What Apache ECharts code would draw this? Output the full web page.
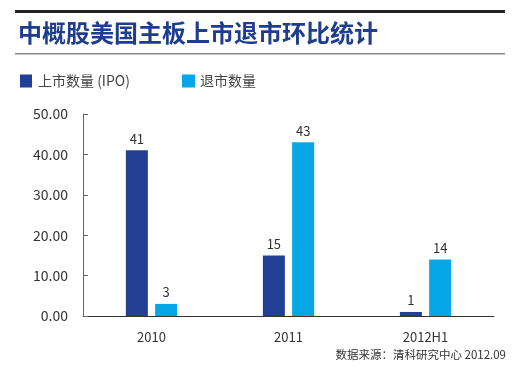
<!DOCTYPE html>
<html><head><meta charset="utf-8">
<script src="https://cdn.jsdelivr.net/npm/echarts@6/dist/echarts.min.js"></script>
<style>html,body{margin:0;padding:0;background:#fff}#c{width:524px;height:382px}</style>
</head><body><div id="c"></div>
<script>
const categories = ['2010', '2011', '2012H1'];
const ipoValues = [41, 15, 1];
const delistValues = [3, 43, 14];
const seriesNames = ['上市数量 (IPO)', '退市数量'];
const titleText = '中概股美国主板上市退市环比统计';
const sourceText = '数据来源：清科研究中心 2012.09';

const FONT = '"Noto Sans CJK SC", "Noto Sans", sans-serif';
const chart = echarts.init(document.getElementById('c'), null, {renderer: 'canvas'});
chart.setOption({
  backgroundColor: '#fff',
  animation: false,
  title: {
    text: titleText, left: 13, top: 16,
    textStyle: {fontFamily: FONT, fontSize: 24, fontWeight: 'bold', color: '#1f3d8e'}
  },
  legend: [
    {data: [seriesNames[0]], left: 15, top: 69, itemWidth: 12, itemHeight: 13, icon: 'rect', itemGap: 6,
     textStyle: {fontFamily: FONT, fontSize: 14, color: '#444', padding: [0,0,0,1]}},
    {data: [seriesNames[1]], left: 177, top: 69, itemWidth: 13, itemHeight: 13, icon: 'rect',
     textStyle: {fontFamily: FONT, fontSize: 14, color: '#444'}}
  ],
  graphic: [
    {type: 'rect', shape: {x: 15, y: 10, width: 490, height: 3}, style: {fill: '#222'}},
    {type: 'rect', shape: {x: 15, y: 53, width: 490, height: 1.5}, style: {fill: '#8a8a8a'}},
    {type: 'text', right: 18, top: 349, style: {text: sourceText, font: '11.5px ' + FONT, fill: '#333'}}
  ],
  grid: {left: 83, right: 30, top: 114, bottom: 66, containLabel: false},
  xAxis: {
    type: 'category', data: categories,
    axisLine: {lineStyle: {color: '#333', width: 1}},
    axisTick: {show: false},
    axisLabel: {fontFamily: FONT, fontSize: 13, color: '#333', margin: 15}
  },
  yAxis: {
    type: 'value', min: 0, max: 50, interval: 10,
    axisLine: {show: true, lineStyle: {color: '#666', width: 1}},
    axisTick: {show: true, inside: true, length: 5, lineStyle: {color: '#666'}},
    splitLine: {show: false},
    axisLabel: {fontFamily: FONT, fontSize: 14, color: '#333', margin: 15,
      formatter: v => v.toFixed(2)}
  },
  series: [
    {name: seriesNames[0], type: 'bar', data: ipoValues, barWidth: 22, barGap: '33%',
     itemStyle: {color: '#223f96'},
     label: {show: true, position: 'top', distance: 5, fontFamily: FONT, fontSize: 13, color: '#333'}},
    {name: seriesNames[1], type: 'bar', data: delistValues, barWidth: 22,
     itemStyle: {color: '#05a7e6'},
     label: {show: true, position: 'top', distance: 5, fontFamily: FONT, fontSize: 13, color: '#333'}}
  ]
});
</script></body></html>
